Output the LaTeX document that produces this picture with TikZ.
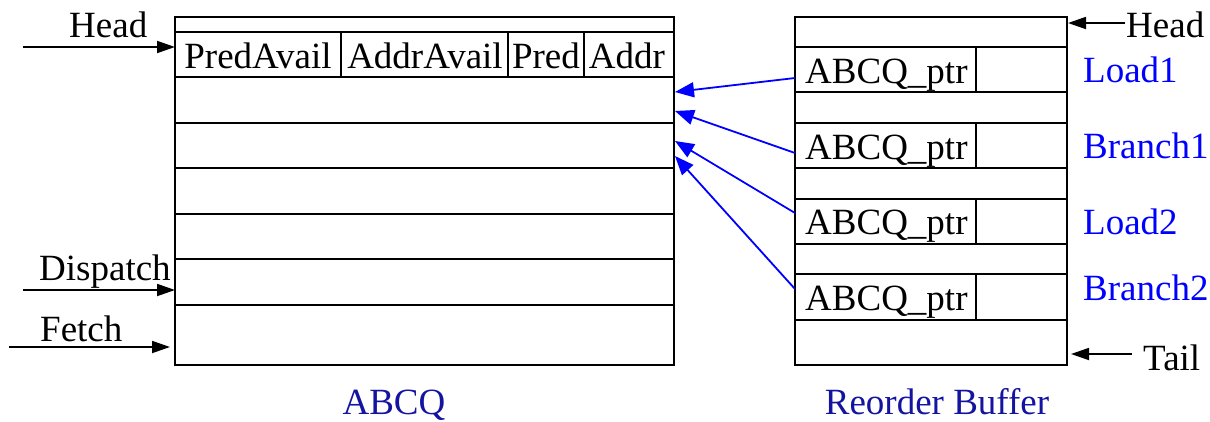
\documentclass[tikz,border=0pt]{standalone}
\usepackage{fontspec}
\setmainfont{Liberation Serif}
\usetikzlibrary{arrows.meta}
\definecolor{lblue}{RGB}{0,0,255}
\definecolor{dblue}{RGB}{20,20,160}
\tikzset{
  box/.style={draw=black,line width=2pt},
  txt/.style={inner sep=0pt,anchor=base,font=\fontsize{37}{40}\selectfont},
  arr/.style={line width=1.8pt,-{Triangle[length=18pt,width=12pt]}},
  barr/.style={draw=lblue,line width=1.8pt,-{Triangle[length=19pt,width=15pt]}}
}
\begin{document}
\begin{tikzpicture}[x=1pt,y=-1pt]
\useasboundingbox (0,0) rectangle (1210,421);
% ABCQ
\draw[box] (175,17) rectangle (674,365);
\foreach \yy in {32,77,123,168,214,259,305} \draw[box] (175,\yy) -- (674,\yy);
\foreach \xx in {341,508,584} \draw[box] (\xx,32) -- (\xx,77);
\node[txt] (f1) at (258,68) {PredAvail};
\node[txt] (f2) at (425,68) {AddrAvail};
\node[txt] (f3) at (546,68) {Pred};
\node[txt] (f4) at (627,68) {Addr};
\coordinate (a1) at (675,92);
\coordinate (a2) at (675,111);
\coordinate (a3) at (675,141);
\coordinate (a4) at (675,156);
\coordinate (hin) at (175,47);
\coordinate (din) at (175,290);
\coordinate (fin) at (170,347);
\coordinate (hs) at (23,47);
\coordinate (ds) at (23,290);
\coordinate (fs) at (9,347);
\draw[arr] (hs) -- (hin);
\draw[arr] (ds) -- (din);
\draw[arr] (fs) -- (fin);
\node[txt,anchor=base west] (lh) at (69,37) {Head};
\node[txt,anchor=base west] (ld) at (39,280) {Dispatch};
\node[txt,anchor=base west] (lf) at (40,341) {Fetch};
\node[txt,text=dblue] (labcq) at (394,414) {ABCQ};
% ROB
\draw[box] (795,17) rectangle (1067,365);
\foreach \yy in {47,92,123,168,199,244,274,320} \draw[box] (795,\yy) -- (1067,\yy);
\foreach \ya/\yb in {47/92,123/168,199/244,274/320} \draw[box] (976,\ya) -- (976,\yb);
\node[txt,anchor=base west] (p1) at (805,83) {ABCQ\_ptr};
\node[txt,anchor=base west] (p2) at (805,159) {ABCQ\_ptr};
\node[txt,anchor=base west] (p3) at (805,234) {ABCQ\_ptr};
\node[txt,anchor=base west] (p4) at (805,310) {ABCQ\_ptr};
\coordinate (b1) at (795,78);
\coordinate (b2) at (795,153);
\coordinate (b3) at (795,213);
\coordinate (b4) at (795,289);
\draw[barr] (b1) -- (a1);
\draw[barr] (b2) -- (a2);
\draw[barr] (b3) -- (a3);
\draw[barr] (b4) -- (a4);
\node[txt,text=lblue,anchor=base west] (l1) at (1083,82) {Load1};
\node[txt,text=lblue,anchor=base west] (l2) at (1083,158) {Branch1};
\node[txt,text=lblue,anchor=base west] (l3) at (1083,234) {Load2};
\node[txt,text=lblue,anchor=base west] (l4) at (1083,300) {Branch2};
\coordinate (rh) at (1068,23);
\coordinate (rhs) at (1125,23);
\coordinate (rt) at (1071,354);
\coordinate (rts) at (1132,354);
\draw[arr] (rhs) -- (rh);
\draw[arr] (rts) -- (rt);
\node[txt,anchor=base west] (hr) at (1126,37) {Head};
\node[txt,anchor=base west] (tr) at (1143,370) {Tail};
\node[txt,text=dblue] (lrob) at (937,414) {Reorder Buffer};
\end{tikzpicture}
\end{document}
